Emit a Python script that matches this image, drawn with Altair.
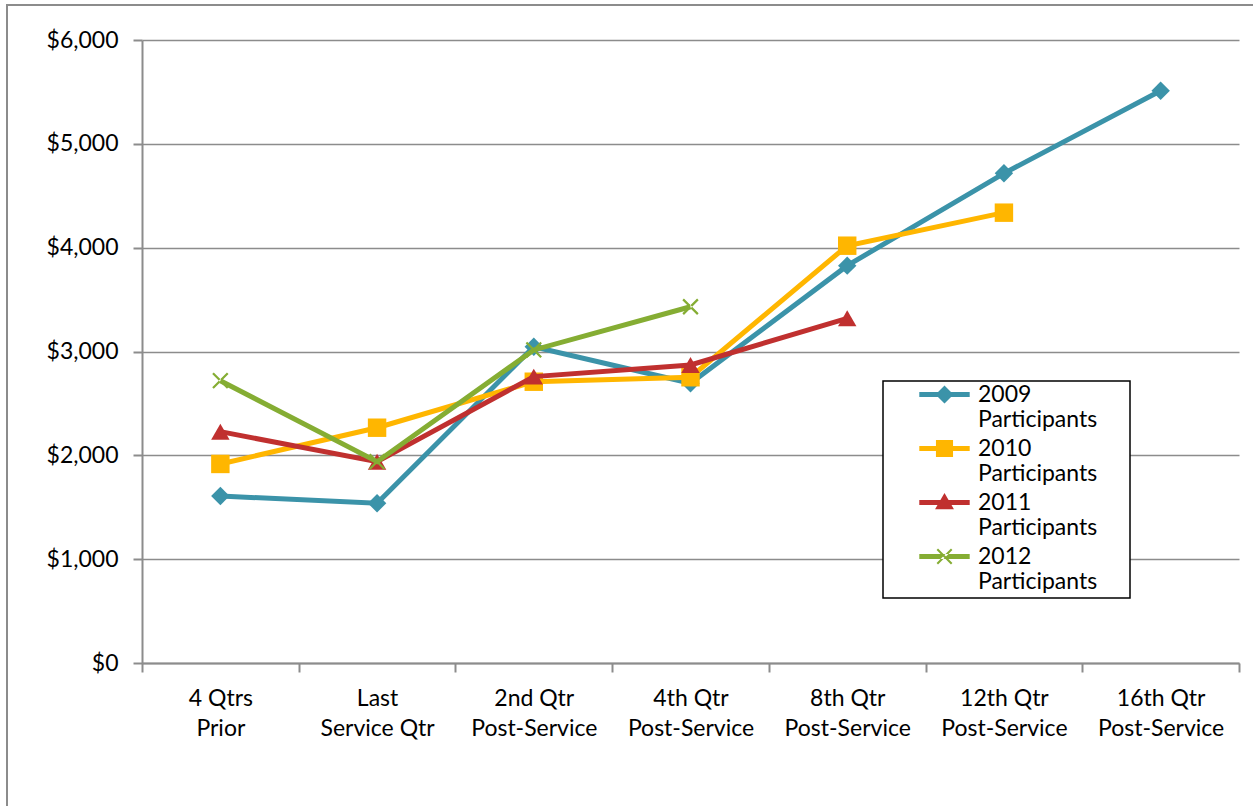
import altair as alt
import pandas as pd

categories = [
    "4 Qtrs\nPrior",
    "Last\nService Qtr",
    "2nd Qtr\nPost-Service",
    "4th Qtr\nPost-Service",
    "8th Qtr\nPost-Service",
    "12th Qtr\nPost-Service",
    "16th Qtr\nPost-Service",
]
series_names = ["2009 Participants", "2010 Participants", "2011 Participants", "2012 Participants"]
values_2009 = [1608, 1538, 3046, 2694, 3827, 4716, 5512]
values_2010 = [1917, 2266, 2709, 2752, 4019, 4337]
values_2011 = [2228, 1939, 2758, 2870, 3320]
values_2012 = [2719, 1939, 3015, 3431]
colors = ["#3B93A9", "#FFB600", "#C0302F", "#85AD33"]

X_PATH = ("M-0.715,-0.885L0.885,0.715L0.715,0.885L-0.885,-0.715Z"
          "M-0.715,0.885L0.885,-0.715L0.715,-0.885L-0.885,0.715Z")
marker_shapes = ["diamond", "square", "triangle-up", X_PATH]
BAR = "M-2.8,-0.28L2.8,-0.28L2.8,0.28L-2.8,0.28Z"
legend_shapes = [
    "M0,-1L1,0L0,1L-1,0Z" + BAR,
    "M-0.95,-0.95L0.95,-0.95L0.95,0.95L-0.95,0.95Z" + BAR,
    "M0,-1.05L1.05,0.75L-1.05,0.75Z" + BAR,
    "M-0.72,-0.88L0.88,0.72L0.72,0.88L-0.88,-0.72Z"
    "M-0.72,0.88L0.88,-0.72L0.72,-0.88L-0.88,0.72Z" + BAR,
]

FONT = "Lato"
FS = 23

rows = []
for name, vals in zip(series_names, [values_2009, values_2010, values_2011, values_2012]):
    for cat, v in zip(categories, vals):
        rows.append({"category": cat, "series": name, "value": v})
df = pd.DataFrame(rows)

x_enc = alt.X(
    "category:N",
    sort=categories,
    scale=alt.Scale(domain=categories, paddingInner=0, paddingOuter=0),
    axis=alt.Axis(
        title=None,
        labelExpr="split(datum.label, '\\n')",
        labelAngle=0,
        labelFontSize=FS,
        labelLineHeight=30,
        labelPadding=15,
        tickBand="extent",
        tickSize=9,
        grid=False,
        labelColor="black",
    ),
)
y_enc = alt.Y(
    "value:Q",
    scale=alt.Scale(domain=[0, 6000], nice=False),
    axis=alt.Axis(
        title=None,
        values=[0, 1000, 2000, 3000, 4000, 5000, 6000],
        format="$,.0f",
        labelFontSize=FS,
        labelPadding=15,
        tickSize=9,
        grid=True,
        labelColor="black",
    ),
)

color_scale = alt.Scale(domain=series_names, range=colors)
shape_scale = alt.Scale(domain=series_names, range=marker_shapes)

base = alt.Chart(df)
one_row = base.transform_filter(alt.datum.category == categories[0]).transform_filter(
    alt.datum.series == series_names[0]
)

# outer chart frame and legend box (decorations)
frame = one_row.mark_rect(fill=None, stroke="#8C8C8C", strokeWidth=2).encode(
    x=alt.value(-135), x2=alt.value(1125), y=alt.value(-35), y2=alt.value(780)
)
legend_box = one_row.mark_rect(fill="white", stroke="black", strokeWidth=1.5).encode(
    x=alt.value(741), x2=alt.value(988), y=alt.value(341), y2=alt.value(558)
)

layers = [frame]
for name in series_names:
    sub = base.transform_filter(alt.datum.series == name)
    line = sub.mark_line(strokeWidth=5).encode(
        x=x_enc, y=y_enc,
        color=alt.Color("series:N", scale=color_scale, legend=None),
    )
    pts = sub.mark_point(filled=True, size=340, opacity=1).encode(
        x=x_enc, y=y_enc,
        color=alt.Color("series:N", scale=color_scale, legend=None),
        shape=alt.Shape("series:N", scale=shape_scale, legend=None),
    )
    layers += [line, pts]
layers.append(legend_box)

leg = alt.Legend(title=None, labelExpr="split(datum.label, ' ')")
ghost = base.transform_filter("false").mark_point(filled=True, size=324, opacity=1).encode(
    x=x_enc, y=y_enc,
    color=alt.Color(
        "series:N",
        scale=alt.Scale(domain=series_names, range=colors),
        legend=leg,
    ),
    shape=alt.Shape(
        "series:N",
        scale=alt.Scale(domain=series_names, range=legend_shapes),
        legend=leg,
    ),
)
layers.append(ghost)

chart = (
    alt.layer(*layers)
    .resolve_scale(color="independent", shape="independent")
    .properties(
        width=1097,
        height=623,
        autosize=alt.AutoSizeParams(type="none"),
        padding={"left": 142, "top": 40, "right": 14, "bottom": 143},
    )
    .configure(font=FONT)
    .configure_view(stroke=None)
    .configure_axis(
        domainColor="#8C8C8C",
        domainWidth=2,
        tickColor="#8C8C8C",
        tickWidth=2,
        gridColor="#8C8C8C",
        gridWidth=1.6,
        labelFont=FONT,
    )
    .configure_legend(
        orient="none",
        legendX=741,
        legendY=341,
        padding=2,
        labelFontSize=FS,
        labelFont=FONT,
        labelColor="black",
        labelBaseline="middle",
        labelOffset=22,
        symbolOffset=48,
        symbolSize=324,
        symbolStrokeWidth=0,
        rowPadding=5,
        labelLimit=400,
    )
)

chart.save("out.html", embed_options={"renderer": "svg", "actions": False})
